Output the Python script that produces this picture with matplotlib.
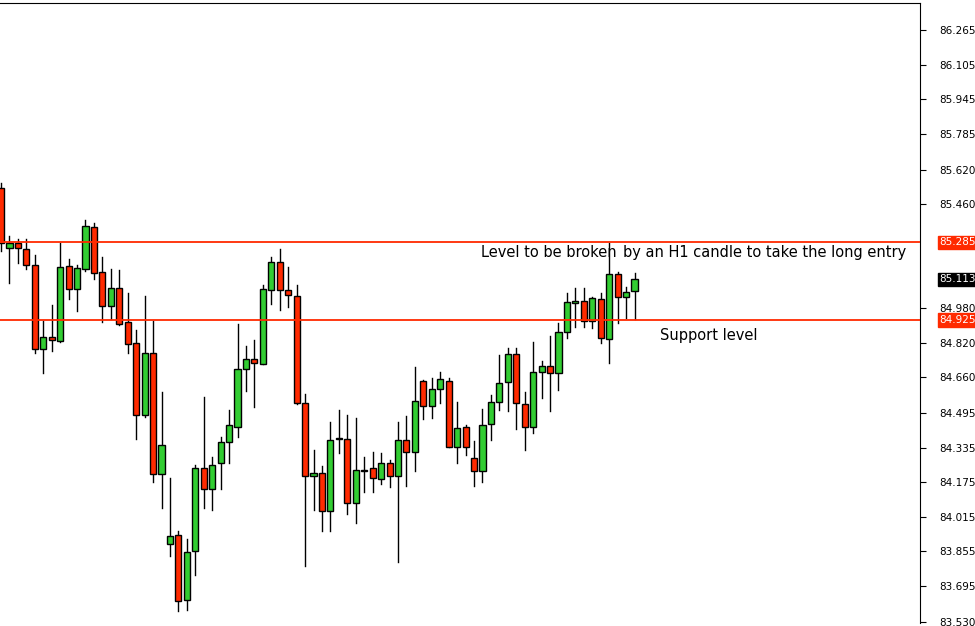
import numpy as np
import matplotlib
matplotlib.use('Agg')
from matplotlib import pyplot as plt
from matplotlib.patches import Rectangle

# OHLC values (H1 candles)
opens = [85.535, 85.258, 85.282, 85.254, 85.180, 84.792, 84.848, 84.829, 85.175, 85.069,
         85.162, 85.355, 85.148, 84.991, 85.074, 84.917, 84.820, 84.488, 84.774, 84.215,
         83.888, 83.929, 83.629, 83.856, 84.243, 84.146, 84.262, 84.359, 84.432, 84.700,
         84.746, 84.723, 85.065, 85.194, 85.065, 85.037, 84.543, 84.202, 84.220, 84.040,
         84.375, 84.377, 84.077, 84.230, 84.239, 84.192, 84.266, 84.206, 84.372, 84.317,
         84.645, 84.529, 84.608, 84.645, 84.340, 84.432, 84.289, 84.225, 84.446, 84.548,
         84.640, 84.769, 84.539, 84.432, 84.686, 84.714, 84.682, 84.871, 85.005, 85.014,
         84.922, 85.023, 84.839, 85.138, 85.032, 85.060]
highs = [85.558, 85.314, 85.300, 85.300, 85.226, 84.922, 84.995, 85.282, 85.208, 85.180,
         85.388, 85.374, 85.217, 85.162, 85.157, 85.051, 84.880, 85.037, 84.922, 84.594,
         84.197, 83.948, 83.915, 84.257, 84.571, 84.294, 84.386, 84.511, 84.908, 84.806,
         84.834, 85.088, 85.217, 85.252, 85.171, 85.088, 84.585, 84.322, 84.252, 84.455,
         84.511, 84.488, 84.474, 84.294, 84.317, 84.312, 84.276, 84.455, 84.483, 84.709,
         84.650, 84.659, 84.686, 84.659, 84.548, 84.442, 84.368, 84.515, 84.580, 84.765,
         84.797, 84.797, 84.594, 84.825, 84.737, 84.852, 84.912, 85.051, 85.074, 85.074,
         85.032, 85.051, 85.282, 85.148, 85.078, 85.143]
lows = [85.245, 85.097, 85.189, 85.162, 84.774, 84.682, 84.783, 84.825, 85.023, 84.968,
        85.152, 85.115, 84.917, 84.931, 84.903, 84.774, 84.377, 84.479, 84.174, 84.054,
        83.832, 83.579, 83.583, 83.745, 84.054, 84.049, 84.146, 84.262, 84.382, 84.599,
        84.525, 84.723, 85.000, 84.972, 84.986, 84.539, 83.786, 84.045, 83.952, 83.952,
        84.312, 84.026, 83.985, 84.132, 84.132, 84.169, 84.151, 83.805, 84.160, 84.229,
        84.469, 84.474, 84.543, 84.336, 84.262, 84.303, 84.160, 84.174, 84.372, 84.511,
        84.506, 84.423, 84.322, 84.405, 84.566, 84.506, 84.603, 84.843, 84.894, 84.894,
        84.889, 84.820, 84.728, 84.912, 84.935, 84.931]
closes = [85.282, 85.282, 85.258, 85.180, 84.792, 84.848, 84.834, 85.171, 85.069, 85.166,
          85.360, 85.143, 84.991, 85.074, 84.908, 84.815, 84.488, 84.774, 84.215, 84.349,
          83.925, 83.625, 83.851, 84.243, 84.146, 84.257, 84.363, 84.442, 84.700, 84.746,
          84.728, 85.069, 85.194, 85.065, 85.042, 84.543, 84.206, 84.220, 84.040, 84.372,
          84.380, 84.077, 84.234, 84.228, 84.197, 84.266, 84.206, 84.372, 84.317, 84.552,
          84.529, 84.608, 84.654, 84.340, 84.428, 84.336, 84.225, 84.442, 84.548, 84.635,
          84.769, 84.543, 84.432, 84.686, 84.714, 84.682, 84.871, 85.009, 85.014, 84.922,
          85.028, 84.843, 85.138, 85.032, 85.055, 85.115]

y_ticks = [86.265, 86.105, 85.945, 85.785, 85.620, 85.460, 84.980, 84.820,
           84.660, 84.495, 84.335, 84.175, 84.015, 83.855, 83.695, 83.530]
resistance = 85.285
support = 84.925
last_price = 85.113

BULL = '#32cd32'
BEAR = '#ff2a00'

fig = plt.figure(figsize=(9.75, 6.26), dpi=100)
ax = fig.add_axes([0.0, 0.005, 0.9436, 0.99])

for i in range(len(opens)):
    o, h, l, c = opens[i], highs[i], lows[i], closes[i]
    ax.plot([i, i], [l, h], color='black', linewidth=1.0, zorder=2)
    col = BULL if c >= o else BEAR
    bottom = min(o, c)
    height = max(abs(c - o), 0.004)
    ax.add_patch(Rectangle((i - 0.36, bottom), 0.72, height, facecolor=col,
                           edgecolor='black', linewidth=1.0, zorder=3))

ax.axhline(resistance, color='#ff2a00', linewidth=1.3, zorder=4)
ax.axhline(support, color='#ff2a00', linewidth=1.3, zorder=4)

ax.set_xlim(-0.12, 108.8)
ax.set_ylim(83.525, 86.39)

ax.yaxis.tick_right()
ax.set_yticks(y_ticks)
ax.set_yticklabels(['%.3f' % v for v in y_ticks], fontsize=7.5)
ax.tick_params(axis='y', length=4, width=0.8, pad=10)
ax.set_xticks([])
for s in ['left', 'bottom']:
    ax.spines[s].set_visible(False)
ax.spines['top'].set_linewidth(0.8)
ax.spines['right'].set_linewidth(0.8)

# price labels on the right scale
for val, bg in [(resistance, '#ff2a00'), (support, '#ff2a00'), (last_price, 'black')]:
    ax.annotate('%.3f' % val, xy=(1.0, val), xycoords=('axes fraction', 'data'),
                xytext=(14, 0), textcoords='offset points', va='center', ha='left',
                fontsize=7.5, color='white', annotation_clip=False,
                bbox=dict(boxstyle='square,pad=0.15', facecolor=bg, edgecolor=bg))

ax.text(56.8, 85.235, 'Level to be broken', fontsize=10.5, va='center', ha='left')
ax.text(73.6, 85.235, 'by an H1 candle to take the long entry', fontsize=10.5,
        va='center', ha='left')
ax.text(78.0, 84.852, 'Support level', fontsize=10.5, va='center', ha='left')

plt.savefig('out.png', dpi=100)
